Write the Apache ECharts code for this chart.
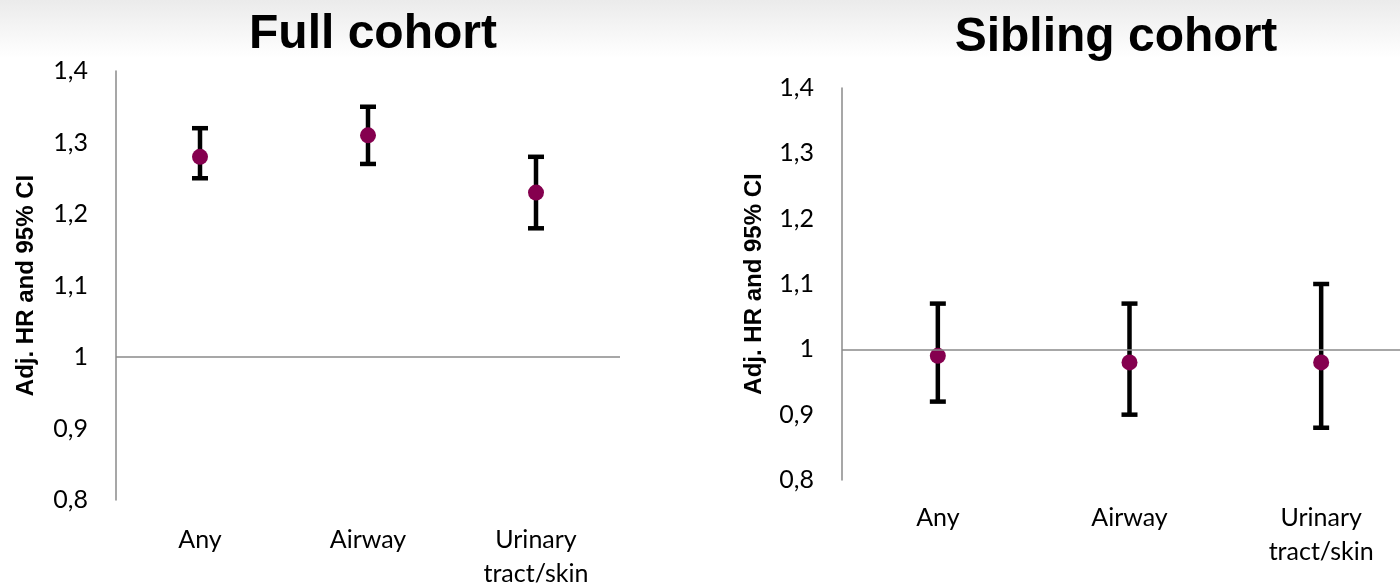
<!DOCTYPE html>
<html>
<head>
<meta charset="utf-8">
<script src="https://cdn.jsdelivr.net/npm/echarts@6/dist/echarts.min.js"></script>
<style>
  html, body { margin: 0; padding: 0; }
  body { background: linear-gradient(to bottom, #ebebeb 0px, #ffffff 58px, #ffffff 100%); }
  #chart { width: 1400px; height: 587px; }
</style>
</head>
<body>
<div id="chart"></div>
<script>
const categories = ["Any", "Airway", "Urinary\ntract/skin"];
const yTicks = [0.8, 0.9, 1, 1.1, 1.2, 1.3, 1.4];

const fullHr = [1.28, 1.31, 1.23];
const fullLow = [1.25, 1.27, 1.18];
const fullHigh = [1.32, 1.35, 1.28];

const sibHr = [0.99, 0.98, 0.98];
const sibLow = [0.92, 0.90, 0.88];
const sibHigh = [1.07, 1.07, 1.10];

const chart = echarts.init(document.getElementById("chart"));

const axisGrey = "#8a8a8a";
const labelFont = "Lato, 'Open Sans', sans-serif";
const boldFont = "'Liberation Sans', Arial, sans-serif";

function errorBars(gridIdx, low, high) {
  return {
    type: "custom",
    xAxisIndex: gridIdx,
    yAxisIndex: gridIdx,
    z: 3,
    data: categories.map((c, i) => [i, low[i], high[i]]),
    renderItem: (params, api) => {
      const top = api.coord([api.value(0), api.value(2)]);
      const bot = api.coord([api.value(0), api.value(1)]);
      const hw = 8;
      const style = { stroke: "#000", lineWidth: 4.5 };
      return {
        type: "group",
        children: [
          { type: "line", shape: { x1: top[0], y1: top[1], x2: bot[0], y2: bot[1] }, style },
          { type: "line", shape: { x1: top[0] - hw, y1: top[1], x2: top[0] + hw, y2: top[1] }, style },
          { type: "line", shape: { x1: bot[0] - hw, y1: bot[1], x2: bot[0] + hw, y2: bot[1] }, style },
        ],
      };
    },
  };
}

function points(gridIdx, hr) {
  return {
    type: "scatter",
    xAxisIndex: gridIdx,
    yAxisIndex: gridIdx,
    z: 4,
    symbolSize: 16,
    itemStyle: { color: "#85004f", opacity: 1 },
    data: hr.map((v, i) => [i, v]),
    markLine: {
      silent: true,
      symbol: "none",
      label: { show: false },
      lineStyle: { color: axisGrey, width: 1.5, type: "solid" },
      data: [{ yAxis: 1 }],
    },
  };
}

function xAxis(gridIdx, margin) {
  return {
    type: "category",
    gridIndex: gridIdx,
    data: categories,
    axisLine: { show: false },
    axisTick: { show: false },
    axisLabel: {
      margin: margin,
      fontSize: 25,
      lineHeight: 34,
      color: "#000",
      fontFamily: labelFont,
      interval: 0,
    },
  };
}

function yAxis(gridIdx, gap) {
  return {
    type: "value",
    gridIndex: gridIdx,
    min: yTicks[0],
    max: yTicks[yTicks.length - 1],
    interval: 0.1,
    name: "Adj. HR and 95% CI",
    nameLocation: "middle",
    nameGap: gap,
    nameTextStyle: { fontSize: 24, fontWeight: "bold", color: "#000", fontFamily: boldFont },
    axisLine: { show: true, lineStyle: { color: axisGrey, width: 1.5 } },
    axisTick: { show: false },
    splitLine: { show: false },
    axisLabel: {
      margin: 28,
      fontSize: 25,
      color: "#000",
      fontFamily: labelFont,
      formatter: v => String(Math.round(v * 10) / 10).replace(".", ","),
    },
  };
}

chart.setOption({
  animation: false,
  title: [
    {
      text: "Full cohort",
      left: 368,
      top: 6,
      textAlign: "center",
      textStyle: { fontSize: 48, fontWeight: "bold", color: "#000", fontFamily: boldFont },
    },
    {
      text: "Sibling cohort",
      left: 1111,
      top: 9,
      textAlign: "center",
      textStyle: { fontSize: 48, fontWeight: "bold", color: "#000", fontFamily: boldFont },
    },
  ],
  grid: [
    { left: 116, top: 71, width: 504, height: 429, outerBoundsMode: "none" },
    { left: 842, top: 88, width: 575, height: 392, outerBoundsMode: "none" },
  ],
  xAxis: [xAxis(0, 23), xAxis(1, 21)],
  yAxis: [yAxis(0, 78), yAxis(1, 76)],
  series: [
    errorBars(0, fullLow, fullHigh),
    points(0, fullHr),
    errorBars(1, sibLow, sibHigh),
    points(1, sibHr),
  ],
});
</script>
</body>
</html>
